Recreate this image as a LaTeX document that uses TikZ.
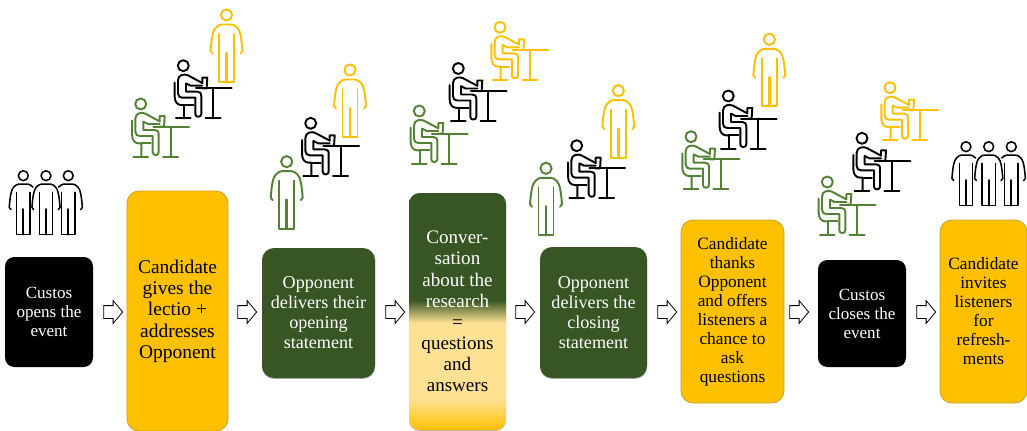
\documentclass[tikz,border=0pt]{standalone}
\usepackage{fontspec}
\setmainfont{Liberation Serif}
\usetikzlibrary{shapes.arrows,shadows}
\definecolor{cand}{HTML}{FFC000}
\definecolor{candline}{HTML}{C9A227}
\definecolor{opp}{HTML}{375623}
\definecolor{icongreen}{HTML}{548235}
\definecolor{iconyellow}{HTML}{FFC000}
\definecolor{conv}{HTML}{FFE193}
\pgfdeclareverticalshading{convgrad}{100bp}{color(0bp)=(cand); color(25bp)=(cand); color(31.5bp)=(conv); color(47.6bp)=(conv); color(52.4bp)=(opp); color(100bp)=(opp)}
\newcommand{\personbody}{%
  \draw[iconline] (0,0) circle (5.6);
  \draw[iconline] (-7.5,19) -- (-7.5,67) -- (7.5,67) -- (7.5,19);
  \draw[iconline,line width=1.25*\iconw] (0,38) -- (0,67);
}
\newcommand{\iconw}{1.45pt}
\tikzset{
  soft/.style={general shadow={fill=black,opacity=.3,shadow xshift=0pt,shadow yshift=-0.7pt}},
  boxbase/.style 2 args={rectangle,align=center,inner sep=0pt,minimum width=#1*0.75pt,minimum height=#2*0.75pt},
  custos/.style={fill=black,text=white,rounded corners=7pt,font=\fontsize{12.8pt}{14.25pt}\selectfont},
  candidate/.style={fill=cand,draw=candline,line width=.6pt,text=black,rounded corners=9pt},
  opponent/.style={fill=opp,text=white,rounded corners=9pt,soft,font=\fontsize{13.6pt}{15pt}\selectfont},
  hollow/.style={single arrow,draw=black,fill=white,line width=.6pt,inner sep=0pt,text height=9pt,text depth=0pt,text width=1pt,minimum height=19*0.75pt,single arrow head extend=3.75pt,single arrow tip angle=100,shape border rotate=0},
  iconline/.style={line width=\iconw,line cap=round,line join=round},
  standing/.pic={
    \personbody
    \draw[iconline] (-14,38.5) -- (-16,36) .. controls (-15,24) and (-14,16) .. (-11,13) .. controls (-9,11) and (-7,9.5) .. (-5,9.5) -- (5,9.5) .. controls (7,9.5) and (9,11) .. (11,13) .. controls (14,16) and (15,24) .. (16,36) -- (14,38.5);
  },
  leftside/.pic={
    \personbody
    \draw[iconline] (-14,38.5) -- (-16,36) .. controls (-15,24) and (-14,16) .. (-11,13) .. controls (-9,11) and (-7,9.5) .. (-5,9.5) -- (5,9.5) .. controls (7,9.5) and (9,11) .. (11,13);
  },
  rightside/.pic={
    \personbody
    \draw[iconline] (-11,13) .. controls (-9,11) and (-7,9.5) .. (-5,9.5) -- (5,9.5) .. controls (7,9.5) and (9,11) .. (11,13) .. controls (14,16) and (15,24) .. (16,36) -- (14,38.5);
  },
  seated/.pic={
    \begin{scope}[x=0.25pt,y=-0.25pt]
    \draw[iconline] (0,0) circle (16.5);
    \draw[iconline] (-26,50) -- (-26,92) .. controls (-26,108) and (-18,118) .. (-6,118) -- (2,118) -- (2,158);
    \draw[iconline] (-22,158) -- (22,158);
    \draw[iconline] (2,118) -- (30,118);
    \draw[iconline] (38,68) -- (145,68);
    \draw[iconline] (90,68) -- (90,158);
    \draw[iconline] (67,158) -- (112,158);
    \draw[iconline] (57,52) -- (14,29) .. controls (4,24) and (-16,26) .. (-16,44) -- (-16,83) .. controls (-16,92) and (-10,96) .. (-3,96) -- (36,96) -- (36,145) .. controls (36,156) and (54,156) .. (54,145) -- (54,92) .. controls (54,82) and (50,78) .. (42,78) -- (8,78) -- (8,53) -- (22,60) -- (57,60);
    \draw[iconline] (57,52) -- (57,36) -- (72,36) -- (70,68) -- (58,68);
    \end{scope}
  }
}
\begin{document}
\begin{tikzpicture}[x=0.75pt,y=-0.75pt]
\useasboundingbox (0,0) rectangle (1027,431);
% boxes
\node[boxbase={88}{110},custos] (b1) at (49,312) {Custos\\opens the\\event};
\node[boxbase={101}{240},candidate,font=\fontsize{14.6pt}{16pt}\selectfont] (b2) at (177.5,311) {Candidate\\gives the\\lectio +\\addresses\\Opponent};
\node[boxbase={113}{130},opponent] (b3) at (318.5,313) {Opponent\\delivers their\\opening\\statement};
\node[boxbase={97}{237},rounded corners=8pt,soft,shading=convgrad,font=\fontsize{14.3pt}{15.85pt}\selectfont] (b4) at (457.5,311.5) {\textcolor{white}{Conver-}\\\textcolor{white}{sation}\\\textcolor{white}{about the}\\\textcolor{white}{research}\\=\\questions\\and\\answers};
\node[boxbase={107}{131},opponent] (b5) at (593.5,312.5) {Opponent\\delivers the\\closing\\statement};
\node[boxbase={103}{183},candidate,font=\fontsize{13pt}{14.25pt}\selectfont] (b6) at (732.5,311.5) {Candidate\\thanks\\Opponent\\and offers\\listeners a\\chance to\\ask\\questions};
\node[boxbase={88}{107},custos] (b7) at (862,313.5) {Custos\\closes the\\event};
\node[boxbase={87}{183},candidate,font=\fontsize{13pt}{14.25pt}\selectfont] (b8) at (983.5,311.5) {Candidate\\invites\\listeners\\for\\refresh-\\ments};
% arrows
\node[hollow] (a1) at (110.5,312) {};
\node[hollow] (a2) at (244.5,312) {};
\node[hollow] (a3) at (392.5,312) {};
\node[hollow] (a4) at (522.5,312) {};
\node[hollow] (a5) at (664.5,312) {};
\node[hollow] (a6) at (796.5,312) {};
\node[hollow] (a7) at (923.5,312) {};
% icons
\begin{scope}
\renewcommand{\iconw}{1.15pt}
\pic[color=black,scale=.88] at (23.3,175.7) {leftside};
\pic[color=black,scale=.88] at (46,175.7) {standing};
\pic[color=black,scale=.88] at (68.3,175.7) {rightside};
\pic[color=black,scale=.88] at (966,146.7) {leftside};
\pic[color=black,scale=.88] at (988.7,146.7) {standing};
\pic[color=black,scale=.88] at (1011.3,146.7) {rightside};
\end{scope}
\pic[color=icongreen] at (140.7,104) {seated};
\pic[color=black] at (183.3,65.7) {seated};
\pic[color=iconyellow] at (226.5,15) {standing};
\pic[color=icongreen] at (286.7,161.7) {standing};
\pic[color=black] at (310.7,123.3) {seated};
\pic[color=iconyellow] at (350,70) {standing};
\pic[color=icongreen] at (419.3,111) {seated};
\pic[color=black] at (458.3,68.5) {seated};
\pic[color=iconyellow] at (500,27.3) {seated};
\pic[color=icongreen] at (546,168.3) {standing};
\pic[color=black] at (576.7,145.7) {seated};
\pic[color=iconyellow] at (618.3,90.7) {standing};
\pic[color=icongreen] at (691,136.7) {seated};
\pic[color=black] at (728.3,96) {seated};
\pic[color=iconyellow] at (769.3,39.3) {standing};
\pic[color=icongreen] at (827.3,182) {seated};
\pic[color=black] at (862,138.3) {seated};
\pic[color=iconyellow] at (890,87.7) {seated};
\end{tikzpicture}
\end{document}
